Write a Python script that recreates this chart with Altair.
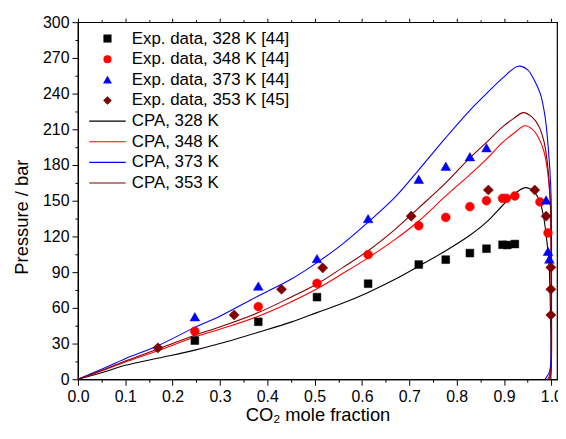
import altair as alt
import pandas as pd

# ---------------- data ----------------
series_names = [
    "Exp. data, 328 K [44]",
    "Exp. data, 348 K [44]",
    "Exp. data, 373 K [44]",
    "Exp. data, 353 K [45]",
    "CPA, 328 K",
    "CPA, 348 K",
    "CPA, 373 K",
    "CPA, 353 K",
]
series_colors = ["#000000", "#ff0000", "#0000ff", "#800000",
                 "#000000", "#ff0000", "#0000ff", "#800000"]

# experimental points
exp328_x = [0.247, 0.381, 0.505, 0.613, 0.720, 0.777, 0.828, 0.863, 0.897, 0.907, 0.923]
exp328_y = [32.5, 48.3, 69.0, 80.3, 96.4, 100.5, 106.0, 109.7, 113.0, 112.8, 113.6]

exp348_x = [0.247, 0.381, 0.505, 0.613, 0.720, 0.777, 0.828, 0.863, 0.897, 0.905, 0.923, 0.976, 0.993]
exp348_y = [40.3, 61.0, 80.6, 104.7, 129.0, 136.0, 145.0, 150.0, 152.0, 152.0, 154.0, 149.0, 123.0]

exp373_x = [0.247, 0.381, 0.505, 0.613, 0.720, 0.777, 0.828, 0.863, 0.989, 0.993, 0.996]
exp373_y = [52.5, 78.3, 101.4, 135.0, 168.0, 179.0, 187.0, 194.5, 150.6, 107.5, 101.0]

exp353_x = [0.169, 0.330, 0.430, 0.517, 0.704, 0.867, 0.965, 0.989, 0.999, 0.999, 0.999]
exp353_y = [26.4, 54.0, 75.6, 93.6, 137.0, 159.0, 159.0, 137.0, 94.0, 75.6, 54.0]

# CPA model curves (bubble branch then dew branch)
cpa328_x = [0.0, 0.05, 0.1, 0.17, 0.247, 0.3, 0.381, 0.45, 0.505, 0.56, 0.613, 0.67, 0.72, 0.777,
            0.828, 0.863, 0.897, 0.92, 0.945, 0.962, 0.975, 0.983, 0.99, 0.995, 0.998, 0.9995, 0.999]
cpa328_y = [0.0, 5.5, 11.7, 17.8, 24.5, 30.0, 39.5, 48.0, 56.0, 64.0, 73.0, 84.0, 95.0, 108.0,
            121.0, 132.0, 146.0, 155.0, 161.0, 158.0, 150.0, 138.0, 118.0, 98.0, 60.0, 20.0, 0.0]

cpa348_x = [0.0, 0.05, 0.1, 0.17, 0.247, 0.3, 0.381, 0.45, 0.505, 0.56, 0.613, 0.67, 0.72, 0.777,
            0.828, 0.863, 0.897, 0.925, 0.944, 0.96, 0.973, 0.984, 0.991, 0.996, 0.9985, 0.9995,
            1.0, 0.996, 0.992]
cpa348_y = [0.0, 7.0, 14.5, 24.2, 35.5, 42.0, 53.0, 65.0, 76.0, 89.0, 102.0, 117.5, 133.0, 154.0,
            172.0, 185.0, 199.0, 208.0, 213.0, 210.0, 203.0, 192.0, 178.0, 159.0, 142.0, 80.0,
            15.0, 3.0, 0.0]

cpa373_x = [0.0, 0.05, 0.1, 0.17, 0.247, 0.3, 0.381, 0.45, 0.505, 0.56, 0.613, 0.67, 0.72, 0.777,
            0.828, 0.863, 0.897, 0.93, 0.95, 0.963, 0.977, 0.987, 0.994, 0.9985, 1.0, 1.0005,
            1.0, 0.998, 0.995, 0.99, 0.987]
cpa373_y = [0.0, 8.5, 17.3, 28.4, 43.6, 53.0, 70.0, 84.0, 98.0, 114.0, 132.0, 153.0, 176.0, 203.0,
            226.0, 240.0, 253.0, 263.0, 260.0, 252.0, 239.5, 220.0, 192.0, 164.5, 142.0, 80.0,
            30.0, 10.0, 5.0, 2.0, 0.0]

cpa353_x = [0.0, 0.05, 0.1, 0.17, 0.247, 0.3, 0.381, 0.45, 0.505, 0.56, 0.613, 0.67, 0.72, 0.777,
            0.828, 0.863, 0.897, 0.92, 0.941, 0.96, 0.973, 0.984, 0.991, 0.996, 0.9985, 0.9995,
            1.0, 0.999, 0.995]
cpa353_y = [0.0, 7.5, 15.3, 25.6, 37.0, 44.0, 56.0, 69.0, 80.0, 94.0, 108.0, 126.0, 144.0, 165.0,
            186.0, 199.0, 212.0, 219.0, 224.0, 220.0, 213.0, 200.6, 184.0, 162.0, 142.0, 90.0,
            30.0, 5.0, 0.0]

x_ticks = [round(i * 0.05, 2) for i in range(21)]
y_ticks = [i * 15 for i in range(21)]

# ---------------- tables ----------------
exp_sets = [(exp328_x, exp328_y), (exp348_x, exp348_y), (exp373_x, exp373_y), (exp353_x, exp353_y)]
cpa_sets = [(cpa328_x, cpa328_y), (cpa348_x, cpa348_y), (cpa373_x, cpa373_y), (cpa353_x, cpa353_y)]

exp_frames = []
for name, (xs, ys) in zip(series_names[:4], exp_sets):
    exp_frames.append(pd.DataFrame({"x": xs, "y": ys, "series": name}))
cpa_rows = []
for name, (xs, ys) in zip(series_names[4:], cpa_sets):
    for i, (xv, yv) in enumerate(zip(xs, ys)):
        cpa_rows.append({"x": xv, "y": yv, "series": name, "idx": i})
cpa_df = pd.DataFrame(cpa_rows)

line_path = "M-5.2,0H5.2"
shape_range = ["square", "circle", "triangle-up", "diamond",
               line_path, line_path, line_path, line_path]
marker_sizes = [62, 80, 95, 105]

FONT = "Liberation Sans"

xscale = alt.Scale(domain=[0, 1.012], nice=False, zero=False)
yscale = alt.Scale(domain=[0, 300], nice=False, zero=False)

x_axis = alt.Axis(
    values=x_ticks,
    labelExpr="round(datum.value*20) % 2 === 0 ? format(datum.value, '.1f') : ''",
    tickSize={"condition": {"test": "round(datum.value*20) % 2 === 0", "value": 6}, "value": 3},
    labelFlush=False,
    title="CO₂ mole fraction",
    titleY=41.5,
    titleBaseline="alphabetic",
)
y_axis = alt.Axis(
    values=y_ticks,
    labelExpr="round(datum.value) % 30 === 0 ? format(datum.value, 'd') : ''",
    tickSize={"condition": {"test": "round(datum.value) % 30 === 0", "value": 6}, "value": 3},
    labelFlush=False,
    title="Pressure / bar",
    titleAngle=270,
    titleX=-51,
    titleY=196,
    titleAlign="center",
    titleBaseline="alphabetic",
)

legend = alt.Legend(
    title=None,
    orient="none",
    legendX=21.3,
    legendY=8,
    symbolSize=50,
    labelOffset=16,
    labelFontSize=17,
    labelFont=FONT,
    labelColor="black",
    rowPadding=2.8,
    padding=0,
    symbolStrokeWidth=1.1,
    labelLimit=400,
)

fill_enc = alt.Fill("series:N", scale=alt.Scale(domain=series_names, range=series_colors), legend=legend)
stroke_enc = alt.Stroke("series:N", scale=alt.Scale(domain=series_names, range=series_colors), legend=legend)
shape_enc = alt.Shape("series:N", scale=alt.Scale(domain=series_names, range=shape_range), legend=legend)

lines = alt.Chart(cpa_df).mark_line(strokeWidth=1.1, interpolate="catmull-rom").encode(
    x=alt.X("x:Q", scale=xscale, axis=x_axis),
    y=alt.Y("y:Q", scale=yscale, axis=y_axis),
    stroke=stroke_enc,
    detail="series:N",
    order=alt.Order("idx:Q"),
)

point_layers = []
for df, sz in zip(exp_frames, marker_sizes):
    point_layers.append(
        alt.Chart(df).mark_point(filled=True, opacity=1, size=sz, strokeWidth=0.5).encode(
            x=alt.X("x:Q", scale=xscale, axis=x_axis),
            y=alt.Y("y:Q", scale=yscale, axis=y_axis),
            fill=fill_enc,
            stroke=stroke_enc,
            shape=shape_enc,
        )
    )

main = alt.layer(lines, *point_layers)

# mirrored axes (top / right) with ticks only
frame = alt.Chart(cpa_df).mark_point(opacity=0).encode(
    x=alt.X("x:Q", scale=xscale, axis=alt.Axis(
        orient="top", values=x_ticks, labels=False, title=None, domain=False,
        tickSize={"condition": {"test": "round(datum.value*20) % 2 === 0", "value": 4}, "value": 2.5})),
    y=alt.Y("y:Q", scale=yscale, axis=alt.Axis(
        orient="right", values=y_ticks, labels=False, title=None, domain=False,
        tickSize={"condition": {"test": "round(datum.value) % 30 === 0", "value": 4}, "value": 2.5})),
)

chart = alt.layer(main, frame).resolve_axis(x="independent", y="independent").properties(
    width=483,
    height=360,
    autosize=alt.AutoSizeParams(type="none"),
    padding={"left": 70.5, "top": 12.6, "right": 1, "bottom": 45.5},
).configure(
    font=FONT,
).configure_view(
    stroke="black", strokeWidth=1.2,
).configure_axis(
    grid=False,
    labelFont=FONT,
    labelFontSize=16,
    labelColor="black",
    labelPadding=3,
    titleFont=FONT,
    titleFontSize=18.5,
    titleFontWeight="normal",
    titleColor="black",
    tickColor="black",
    tickWidth=1,
    domainColor="black",
    domainWidth=1.2,
)

chart.save("out.html", embed_options={"renderer": "svg", "actions": False})
